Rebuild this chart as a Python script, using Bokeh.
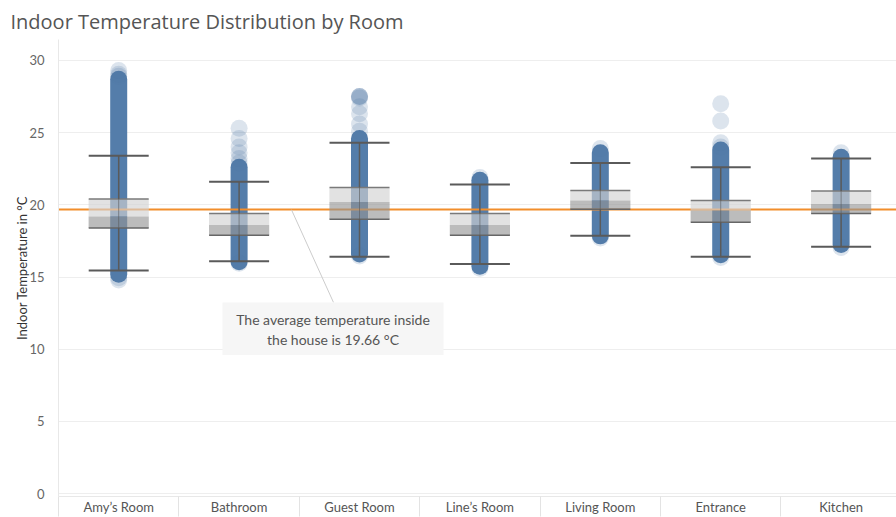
from bokeh.plotting import figure
from bokeh.models import FixedTicker, Range1d
from bokeh.core.properties import value
from bokeh.embed import file_html
from bokeh.resources import INLINE

# ---------------- data ----------------
rooms = ["Amy’s Room", "Bathroom", "Guest Room", "Line’s Room", "Living Room", "Entrance", "Kitchen"]

# box plot statistics per room
lower_whisker = [15.45, 16.1, 16.4, 15.9, 17.85, 16.4, 17.1]
q1            = [18.4, 17.9, 19.0, 17.9, 19.7, 18.8, 19.4]
median        = [19.2, 18.6, 20.2, 18.6, 20.3, 19.6, 20.05]
q3            = [20.4, 19.4, 21.2, 19.4, 21.0, 20.3, 20.95]
upper_whisker = [23.4, 21.6, 24.3, 21.4, 22.9, 22.6, 23.2]

# densely packed readings: lowest and highest of the solid column
dense_low  = [15.2, 16.05, 16.6, 15.75, 17.85, 16.55, 17.25]
dense_high = [28.7, 22.6, 24.6, 21.7, 23.6, 23.8, 23.3]

# sparse individual readings (outside the solid column)
sparse_points = {
    "Amy’s Room":  [29.3, 29.05, 28.9, 14.8, 14.95],
    "Bathroom":    [25.3, 24.6, 24.0, 23.6, 23.2, 22.9, 15.95],
    "Guest Room":  [27.5, 27.5, 27.5, 27.4, 26.8, 26.3, 25.6, 25.1, 16.45],
    "Line’s Room": [21.9, 15.6],
    "Living Room": [23.9, 17.7],
    "Entrance":    [27.0, 25.8, 24.3, 24.0, 16.35],
    "Kitchen":     [23.6, 17.05],
}

average_temp = 19.66
y_ticks = [0, 5, 10, 15, 20, 25, 30]

title_text = "Indoor Temperature Distribution by Room"
y_label = "Indoor Temperature in °C"
note_lines = ["The average temperature inside", "the house is 19.66 °C"]

# ---------------- derived ----------------
n = len(rooms)
xs = list(range(n))
sp_x, sp_y = [], []
for i, r in enumerate(rooms):
    for v in sparse_points[r]:
        sp_x.append(i)
        sp_y.append(v)

FONT = "Lato"
BLUE = "#4e79a7"

p = figure(width=896, height=517, output_backend="svg", toolbar_location=None,
           x_range=Range1d(-0.5, 6.46), y_range=Range1d(-0.2, 31.45),
           min_border_left=58, min_border_right=0, min_border_top=38, min_border_bottom=14)
p.outline_line_color = None
p.background_fill_color = "white"

# title
p.title.text = title_text
p.title.text_font = "Open Sans"
p.title.text_font_size = "20px"
p.title.text_font_style = "normal"
p.title.text_color = "#555555"
p.title.offset = -48
p.title.standoff = 10

# axes
p.yaxis.ticker = FixedTicker(ticks=y_ticks)
p.yaxis.axis_label = y_label
p.yaxis.axis_label_text_font = FONT
p.yaxis.axis_label_text_font_size = "13px"
p.yaxis.axis_label_text_font_style = "normal"
p.yaxis.axis_label_text_color = "#333333"
p.yaxis.axis_label_standoff = -4
p.yaxis.major_label_text_font = FONT
p.yaxis.major_label_text_font_size = "13px"
p.yaxis.major_label_text_color = "#666666"
p.yaxis.major_tick_line_color = None
p.yaxis.minor_tick_line_color = None
p.yaxis.axis_line_color = "#e8e8e8"
p.yaxis.major_label_standoff = 8

p.xaxis.ticker = FixedTicker(ticks=xs, minor_ticks=[i - 0.5 for i in range(n + 1)])
p.xaxis.major_label_overrides = {i: r for i, r in enumerate(rooms)}
p.xaxis.major_tick_line_color = None
p.xaxis.minor_tick_line_color = "#e3e3e3"
p.xaxis.minor_tick_in = 0
p.xaxis.minor_tick_out = 20
p.xaxis.axis_line_color = "#e8e8e8"
p.xaxis.major_label_text_font = FONT
p.xaxis.major_label_text_font_size = "13px"
p.xaxis.major_label_text_color = "#555555"
p.xaxis.major_label_standoff = -18

p.xgrid.visible = False
p.ygrid.grid_line_color = "#eeeeee"

# points: dense column + sparse readings
p.segment(x0=xs, y0=dense_low, x1=xs, y1=dense_high, line_color=BLUE,
          line_width=17, line_cap="round", line_alpha=0.97)
p.scatter(x=sp_x, y=sp_y, size=17, fill_color=BLUE, fill_alpha=0.2, line_color=None)

# average reference line
p.hspan(y=[average_temp], line_color="#f28e2b", line_width=2)

# boxes
p.vbar(x=xs, width=0.5, bottom=median, top=q3, fill_color="#d3d3d3", fill_alpha=0.65, line_color=None)
p.vbar(x=xs, width=0.5, bottom=q1, top=median, fill_color="#959595", fill_alpha=0.63, line_color=None)
p.scatter(x=xs, y=q3, marker="dash", size=60, line_color="#7a7a7a", line_width=1.5)
p.scatter(x=xs, y=q1, marker="dash", size=60, line_color="#666666", line_width=1.5)

# whiskers
p.segment(x0=xs, y0=lower_whisker, x1=xs, y1=q1, line_color="#5a5a5a", line_width=1.5)
p.segment(x0=xs, y0=q3, x1=xs, y1=upper_whisker, line_color="#5a5a5a", line_width=1.5)
p.segment(x0=xs, y0=q1, x1=xs, y1=q3, line_color="#5a5a5a", line_width=1, line_alpha=0.6)
p.scatter(x=xs, y=upper_whisker, marker="dash", size=60, line_color="#5a5a5a", line_width=2)
p.scatter(x=xs, y=lower_whisker, marker="dash", size=60, line_color="#5a5a5a", line_width=2)

# annotation
p.segment(x0=[1.435], y0=[average_temp], x1=[1.784], y1=[13.24], line_color="#cccccc", line_width=1)
p.quad(left=[0.862], right=[2.698], bottom=[9.6], top=[13.24], fill_color="#f6f6f6", line_color=None)
p.text(x=[1.78, 1.78], y=[12.07, 10.69], text=note_lines, text_align="center",
       text_baseline="middle", text_color="#555555", text_font=value(FONT), text_font_size="14px")

open("out.html", "w").write(file_html(p, INLINE))
